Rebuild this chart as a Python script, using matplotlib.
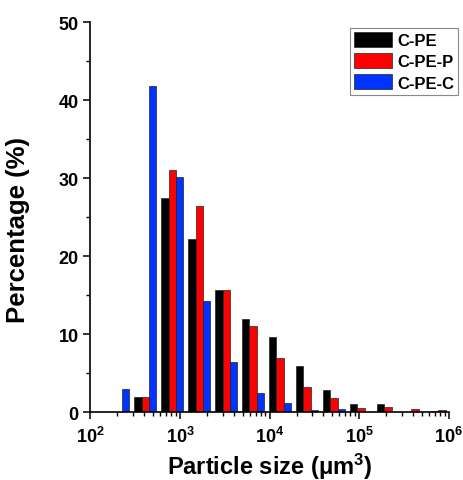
import numpy as np
import matplotlib
matplotlib.use("Agg")
from matplotlib import pyplot as plt
from matplotlib.ticker import FixedLocator, LogLocator, NullFormatter, FuncFormatter

plt.rcParams['font.family'] = ['Liberation Sans', 'DejaVu Sans']
plt.rcParams['font.weight'] = 'bold'
plt.rcParams['mathtext.fontset'] = 'custom'
plt.rcParams['mathtext.rm'] = 'Liberation Sans:bold'
plt.rcParams['mathtext.bf'] = 'Liberation Sans:bold'
plt.rcParams['mathtext.it'] = 'Liberation Sans:bold'

# bin centres (um^3), factor-2 bins
bin_centers = 2.0 ** np.arange(11, 24) / 10
series_names = ['C-PE', 'C-PE-P', 'C-PE-C']
series_colors = ['#000000', '#ff0000', '#0033ff']
c_pe = [0.0, 2.0, 27.4, 22.2, 15.6, 12.0, 9.7, 5.9, 2.8, 1.1, 1.0, 0.0, 0.2]
c_pe_p = [0.0, 2.0, 31.0, 26.4, 15.6, 11.1, 6.9, 3.2, 1.8, 0.5, 0.6, 0.4, 0.3]
c_pe_c = [3.0, 41.8, 30.1, 14.2, 6.4, 2.5, 1.2, 0.3, 0.35, 0.0, 0.0, 0.0, 0.0]
series_values = [c_pe, c_pe_p, c_pe_c]

fig = plt.figure(figsize=(4.64, 4.81), dpi=100)
ax = fig.add_axes([0.195, 0.141, 0.772, 0.811])

bw = 0.082  # bar width in decades
logc = np.log10(bin_centers)
for i, (name, vals, col) in enumerate(zip(series_names, series_values, series_colors)):
    lc = logc + (i - 1) * bw
    left = 10 ** (lc - bw / 2)
    right = 10 ** (lc + bw / 2)
    ax.bar(left, vals, width=right - left, align='edge', color=col,
           edgecolor='#222222', linewidth=0.5, label=name)

ax.set_xscale('log')
ax.set_xlim(1e2, 1e6)
ax.set_ylim(0, 50)
ax.xaxis.set_major_locator(FixedLocator([1e2, 1e3, 1e4, 1e5, 1e6]))
ax.xaxis.set_major_formatter(FuncFormatter(lambda v, p: r'$\mathbf{10^{%d}}$' % round(np.log10(v))))
ax.xaxis.set_minor_locator(LogLocator(base=10, subs=np.arange(2, 10)))
ax.xaxis.set_minor_formatter(NullFormatter())
ax.set_yticks([0, 10, 20, 30, 40, 50])
ax.set_yticks(np.arange(5, 50, 10), minor=True)

for s in ['top', 'right']:
    ax.spines[s].set_visible(False)
for s in ['left', 'bottom']:
    ax.spines[s].set_linewidth(1.2)
ax.tick_params(which='major', direction='out', length=5, width=1.1, labelsize=13)
ax.tick_params(axis='x', which='major', pad=5)
ax.tick_params(which='minor', direction='out', length=3, width=1.0)

ax.set_xlabel('Particle size (μm$^{3}$)', fontsize=17, fontweight='bold', labelpad=3)
ax.set_ylabel('Percentage (%)', fontsize=18.5, fontweight='bold')
ax.yaxis.set_label_coords(-0.17, 0.47)

leg = ax.legend(loc='upper right', bbox_to_anchor=(1.027, 0.985), borderaxespad=0,
                fontsize=12, handlelength=2.3, handleheight=1.0, handletextpad=0.3,
                labelspacing=0.3, borderpad=0.25, fancybox=False, framealpha=1)
leg.get_frame().set_edgecolor('#888888')
leg.get_frame().set_linewidth(0.8)

fig.savefig('out.png', dpi=100)
